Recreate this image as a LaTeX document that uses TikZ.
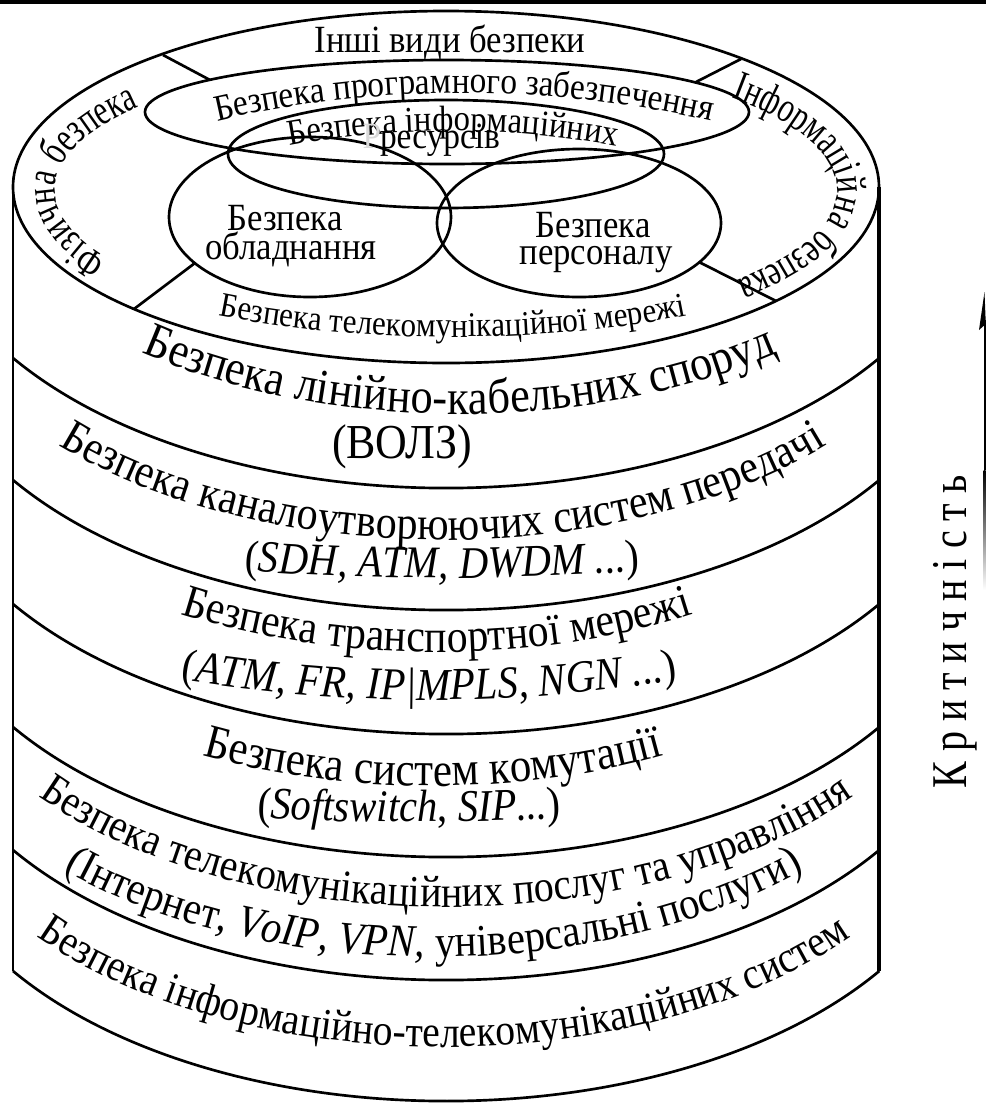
\documentclass[tikz,border=0pt]{standalone}
\usepackage{fontspec}
\setmainfont{Liberation Serif}
\newfontfamily\ca[FakeStretch=0.9]{Liberation Serif}
\newfontfamily\cb[FakeStretch=0.72]{Liberation Serif}
\newfontfamily\cd[FakeStretch=0.8]{Liberation Serif}
\usetikzlibrary{calc,decorations.text}
\newcommand{\fs}[1]{\fontsize{#1}{#1}\selectfont}
% \arctext{center}{start angle}{end angle}{x radius}{y radius}{font}{text}
\newcommand{\arctext}[7]{%
  \path[decorate, decoration={text along path, text align=center,
      text format delimiters={[}{]}, text={[#6]#7}}]
    ($(#1)+(#2:#4 and #5)$) arc[start angle=#2, end angle=#3, x radius=#4, y radius=#5];}
\tikzset{
  ln/.style={line width=2pt, line join=round},
  lbl/.style={inner sep=0pt, anchor=base},
}
\begin{document}
\begin{tikzpicture}[x=0.75pt, y=-0.75pt]
\useasboundingbox (0,0) rectangle (986,1104);
\fill[white] (0,0) rectangle (986,1104);
\fill[black] (0,0) rectangle (986,3.5);
% cylinder
\draw[ln] (446,187) ellipse [x radius=433, y radius=176];
\draw[ln] (13,187) -- (13,971);
\draw[ln, line width=2.6pt] (879,187) -- (879,971);
\foreach \yy in {358,480,604,727,850,971} {
  \draw[ln] (13,\yy) arc[start angle=145.6, end angle=34.4, x radius=525, y radius=299];
}
% top face
\draw[ln] (447,112) ellipse [x radius=302, y radius=52];
\draw[ln] (446,154) ellipse [x radius=218, y radius=54];
\draw[ln] (310,217) ellipse [x radius=141, y radius=80];
\draw[ln] (579,223) ellipse [x radius=142, y radius=74];
\draw[ln] (163,55) -- (210,80);
\draw[ln] (741,59) -- (696,82);
\draw[ln] (134,309) -- (195,263);
\draw[ln] (699,262) -- (776,301);
% top-face texts
\node[lbl] (oth) at (450,52) {\ca\fs{28.9pt}Інші види безпеки};
\arctext{464,1193}{250}{290}{1100}{1100}{\ca\fs{27.8pt}}{Безпека програмного забезпечення}
\arctext{453,1031}{245}{295}{900}{900}{\ca\fs{27.3pt}}{Безпека інформаційних}
\node[lbl, text=gray!30] (rr) at (372,148) {\ca\fs{27.8pt}Р};
\node[lbl] (res) at (440,148) {\ca\fs{27.8pt}ресурсів};
\node[lbl] (ob1) at (285,230) {\ca\fs{28.9pt}Безпека};
\node[lbl] (ob2) at (291,259) {\ca\fs{28.9pt}обладнання};
\node[lbl] (pe1) at (593,237) {\ca\fs{28.9pt}Безпека};
\node[lbl] (pe2) at (596,264) {\ca\fs{28.9pt}персоналу};
\arctext{453,187}{150}{30}{453}{150}{\ca\fs{25.9pt}}{Безпека телекомунікаційної мережі}
\arctext{446,190}{128}{238}{391}{135}{\cb\fs{32pt}}{Фізична безпека}
\arctext{446,190}{304}{415}{391}{135}{\cb\fs{32pt}}{Інформаційна безпека}
% layer texts
\arctext{460,115}{150}{30}{525}{299}{\ca\fs{37pt}}{Безпека лінійно-кабельних споруд}
\node[lbl] (volz) at (402,458) {\ca\fs{36.6pt}(ВОЛЗ)};
\arctext{443,241}{150}{30}{525}{299}{\ca\fs{35.1pt}}{Безпека каналоутворюючих систем передачі}
\arctext{442,-2222}{100}{80}{2800}{2800}{\ca\fs{33.9pt}}{([\ca\fs{33.9pt}\itshape]SDH, ATM, DWDM ...[\ca\fs{33.9pt}\upshape])}
\arctext{437,353}{150}{30}{525}{299}{\ca\fs{34.8pt}}{Безпека транспортної мережі}
\arctext{429,-835}{110}{70}{1535}{1535}{\ca\fs{34.2pt}}{([\ca\fs{34.2pt}\itshape]ATM, FR, IP|MPLS, NGN ...[\ca\fs{34.2pt}\upshape])}
\arctext{433,487}{150}{30}{525}{299}{\ca\fs{35.8pt}}{Безпека систем комутації}
\arctext{409,-2178}{98}{82}{3000}{3000}{\ca\fs{33.9pt}}{([\ca\fs{33.9pt}\itshape]Softswitch[\ca\fs{33.9pt}\upshape], [\ca\fs{33.9pt}\itshape]SIP...[\ca\fs{33.9pt}\upshape])}
\arctext{446,608}{150}{30}{525}{299}{\ca\fs{33.3pt}}{Безпека телекомунікаційних послуг та управління}
\arctext{434,658}{150}{30}{525}{299}{\ca\fs{34pt}}{(Інтернет, [\ca\fs{34pt}\itshape]VoIP, VPN,[\ca\fs{34pt}\upshape] універсальні послуги)}
\arctext{444,748}{150}{30}{525}{299}{\ca\fs{33pt}}{Безпека інформаційно-телекомунікаційних систем}
% criticality arrow
\node[rotate=90, lbl] (krit) at (966,632) {\cd\fs{37.5pt}\addfontfeature{LetterSpace=20}Критичність};
\coordinate (atop) at (984.5,292);
\coordinate (amid) at (984.5,470);
\draw[line width=1.5pt] (984.5,320) -- (amid);
\shade[top color=black, bottom color=white] (983.5,470) rectangle (985.5,590);
\fill (atop) -- (979,330) -- (985.8,324) -- cycle;
\end{tikzpicture}
\end{document}
